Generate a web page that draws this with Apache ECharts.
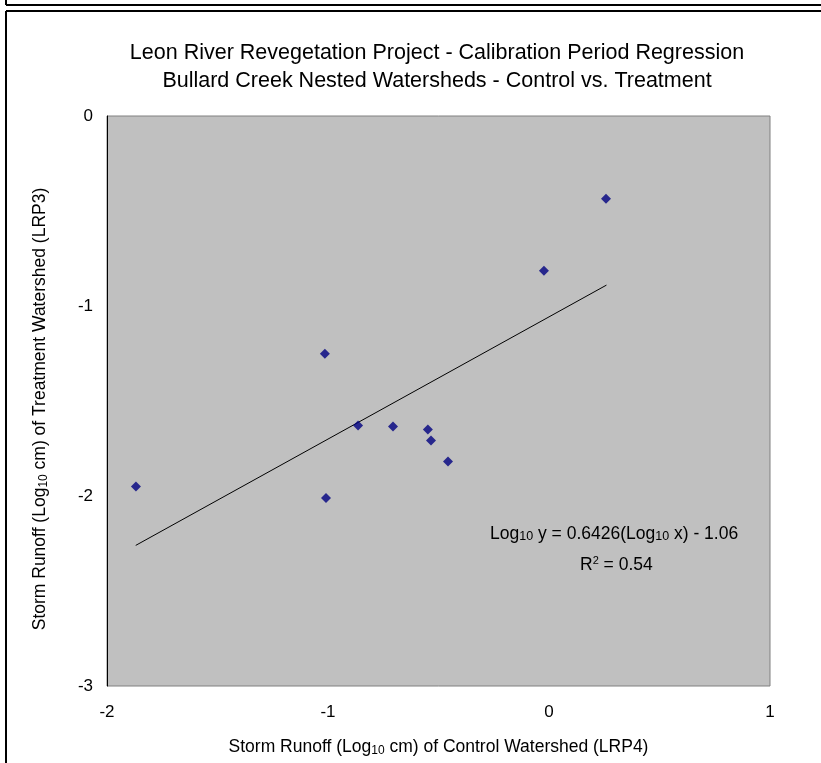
<!DOCTYPE html>
<html>
<head>
<meta charset="utf-8">
<script src="https://cdn.jsdelivr.net/npm/echarts@6/dist/echarts.min.js"></script>
<style>
html,body{margin:0;padding:0;background:#fff;}
#c{width:821px;height:763px;}
</style>
</head>
<body>
<div id="c"></div>
<script>
var controlX = [-1.869, -1.014, -1.009, -0.864, -0.706, -0.548, -0.534, -0.457, -0.023, 0.258];
var treatmentY = [-1.950, -1.251, -2.010, -1.629, -1.634, -1.650, -1.708, -1.818, -0.815, -0.436];
var trendX = [-1.87, 0.26];
var trendY = [-2.26, -0.89];
var xTicks = [-2, -1, 0, 1];
var yTicks = [-3, -2, -1, 0];

var points = controlX.map(function (x, i) { return [x, treatmentY[i]]; });
var trend = trendX.map(function (x, i) { return [x, trendY[i]]; });

var FONT = 'Arial, "Liberation Sans", sans-serif';
var chart = echarts.init(document.getElementById('c'), null, {renderer: 'canvas'});
chart.setOption({
  animation: false,
  backgroundColor: '#ffffff',
  title: {
    text: 'Leon River Revegetation Project - Calibration Period Regression\nBullard Creek Nested Watersheds - Control vs. Treatment',
    left: 432, top: 34, textAlign: 'center',
    textStyle: {fontFamily: FONT, fontSize: 21.5, fontWeight: 'normal', color: '#000', lineHeight: 28}
  },
  grid: {left: 107, top: 116, width: 663, height: 570, show: true, backgroundColor: '#c0c0c0', borderColor: '#808080', borderWidth: 1},
  xAxis: {
    type: 'value', min: -2, max: 1, interval: 1,
    axisLine: {show: false},
    axisTick: {show: false},
    splitLine: {show: false},
    axisLabel: {fontFamily: FONT, fontSize: 17, color: '#000', margin: 18,
      formatter: function (v) { return xTicks.indexOf(v) >= 0 ? String(v) : ''; }},
    name: '{a|Storm Runoff (Log}{s|10}{a| cm) of Control Watershed (LRP4)}',
    nameLocation: 'middle', nameGap: 52,
    nameTextStyle: {rich: {a: {fontFamily: FONT, fontSize: 17.5, color: '#000'}, s: {fontFamily: FONT, fontSize: 12, color: '#000', padding: [7, 0, 0, 0]}}}
  },
  yAxis: {
    type: 'value', min: -3, max: 0, interval: 1,
    axisLine: {show: true, onZero: false, lineStyle: {color: '#000', width: 1}},
    axisTick: {show: false},
    splitLine: {show: false},
    axisLabel: {fontFamily: FONT, fontSize: 17, color: '#000', margin: 14,
      formatter: function (v) { return yTicks.indexOf(v) >= 0 ? String(v) : ''; }}
  },
  series: [
    {type: 'line', data: trend, showSymbol: false, symbol: 'none', lineStyle: {color: '#000', width: 1}, z: 2, silent: true},
    {type: 'scatter', data: points, symbol: 'diamond', symbolSize: 10, itemStyle: {color: '#000080'}, z: 3}
  ],
  graphic: [
    {type: 'line', shape: {x1: 6, y1: 0, x2: 6, y2: 5}, style: {stroke: '#000', lineWidth: 2}},
    {type: 'line', shape: {x1: 6, y1: 5, x2: 821, y2: 5}, style: {stroke: '#000', lineWidth: 2}},
    {type: 'line', shape: {x1: 6, y1: 11, x2: 821, y2: 11}, style: {stroke: '#000', lineWidth: 2}},
    {type: 'line', shape: {x1: 6, y1: 11, x2: 6, y2: 763}, style: {stroke: '#000', lineWidth: 2}},
    {type: 'text', x: 40, y: 409, rotation: Math.PI / 2, style: {
      text: '{a|Storm Runoff (Log}{s|10}{a| cm) of Treatment Watershed (LRP3)}',
      textAlign: 'center', textVerticalAlign: 'middle',
      rich: {a: {fontFamily: FONT, fontSize: 17.5, fill: '#000'}, s: {fontFamily: FONT, fontSize: 12, fill: '#000', padding: [7, 0, 0, 0]}}
    }},
    {type: 'text', left: 490, top: 525, style: {
      text: '{a|Log}{s|10}{a| y = 0.6426(Log}{s|10}{a| x) - 1.06}',
      rich: {a: {fontFamily: FONT, fontSize: 17.5, fill: '#000'}, s: {fontFamily: FONT, fontSize: 12.5, fill: '#000', padding: [6, 0, 0, 0]}}
    }},
    {type: 'text', left: 580, top: 555, style: {
      text: '{a|R}{p|2}{a| = 0.54}',
      rich: {a: {fontFamily: FONT, fontSize: 17.5, fill: '#000'}, p: {fontFamily: FONT, fontSize: 11, fill: '#000', padding: [0, 0, 9, 0]}}
    }}
  ]
});
</script>
</body>
</html>
